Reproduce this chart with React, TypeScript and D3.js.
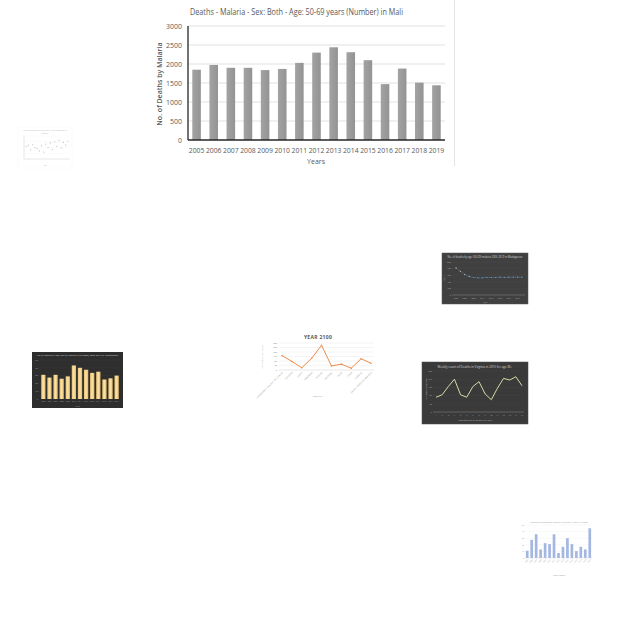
import React from 'react';
import * as d3 from 'd3';

// ---------- main chart data ----------
const years = ['2005','2006','2007','2008','2009','2010','2011','2012','2013','2014','2015','2016','2017','2018','2019'];
const deaths = [1850,1975,1900,1900,1840,1870,2030,2300,2440,2310,2100,1470,1880,1510,1440];
const yTicks = [0,500,1000,1500,2000,2500,3000];

// ---------- thumbnail data ----------
const scatterX = [1,2,3,4,5,6,7,8,9,10,11,12,13,14,15,16,17,18,19,20];
const scatterY = [0.55,0.6,0.4,0.62,0.5,0.45,0.35,0.58,0.3,0.65,0.5,0.7,0.42,0.75,0.55,0.8,0.48,0.72,0.6,0.78];
const darkLineVals = [0.82,0.72,0.62,0.56,0.53,0.52,0.52,0.53,0.53,0.53,0.54,0.53,0.54,0.54,0.54,0.54];
const y2100Countries = ['DEMOCRATIC REPUBLIC OF CONGO','ETHIOPIA','EGYPT','TANZANIA','NIGERIA','PAKISTAN','INDIA','CHINA','UGANDA','UNITED STATES OF AMERICA'];
const y2100Vals = [160,95,25,130,275,45,65,20,125,75];
const yellowBars = [0.62,0.55,0.62,0.52,0.58,0.86,0.8,0.75,0.67,0.7,0.5,0.53,0.6];
const virginiaVals = [0.36,0.42,0.62,0.8,0.42,0.36,0.62,0.74,0.44,0.3,0.58,0.82,0.78,0.86,0.64];
const blueBars = [0.22,0.55,0.72,0.26,0.45,0.42,0.72,0.15,0.34,0.6,0.42,0.21,0.34,0.26,0.9];

const FONT = '"Open Sans", "Liberation Sans", sans-serif';

function MainChart() {
  const x = d3.scaleBand<string>().domain(years).range([188, 445]).paddingInner(0.5).paddingOuter(0.25);
  const y = d3.scaleLinear().domain([0, 3000]).range([140, 26]);
  return (
    <g fontFamily={FONT}>
      <defs>
        <linearGradient id="barG" x1="0" x2="1" y1="0" y2="0">
          <stop offset="0" stopColor="#a3a3a3" />
          <stop offset="1" stopColor="#939393" />
        </linearGradient>
      </defs>
      <line x1={454.5} x2={454.5} y1={0} y2={166} stroke="#e3e3e3" />
      <text x={190} y={15} fontSize={8.5} fill="#595959" textLength={213} lengthAdjust="spacingAndGlyphs">
        Deaths - Malaria - Sex: Both - Age: 50-69 years (Number) in Mali
      </text>
      {yTicks.map(t => (
        <g key={t}>
          {t > 0 && <line x1={188} x2={445} y1={y(t)} y2={y(t)} stroke="#d9d9d9" strokeWidth={0.8} />}
          <text x={182} y={y(t) + 2.5} fontSize={7} fill="#595959" textAnchor="end">{t}</text>
        </g>
      ))}
      {years.map((yr, i) => (
        <rect key={yr} x={x(yr)} y={y(deaths[i])} width={x.bandwidth()} height={y(0) - y(deaths[i])} fill="url(#barG)" />
      ))}
      <line x1={188} x2={188} y1={26} y2={140} stroke="#262626" strokeWidth={1.3} />
      <line x1={188} x2={445} y1={140} y2={140} stroke="#262626" strokeWidth={1.3} />
      {years.map(yr => (
        <text key={yr} x={(x(yr) as number) + x.bandwidth() / 2} y={153} fontSize={6.8} fill="#595959" textAnchor="middle">{yr}</text>
      ))}
      <text x={316} y={163.5} fontSize={7} fill="#595959" textAnchor="middle">Years</text>
      <text transform="translate(162,84) rotate(-90)" fontSize={7} fontWeight={600} fill="#595959" textAnchor="middle">No. of Deaths by Malaria</text>
    </g>
  );
}

function ScatterThumb() {
  const x0 = 18, y0 = 127, w = 54, h = 41;
  const x = d3.scaleLinear().domain([0, 21]).range([x0 + 6, x0 + w - 2]);
  const y = d3.scaleLinear().domain([0, 1]).range([y0 + h - 9, y0 + 9]);
  return (
    <g fontFamily={FONT} opacity={0.55}>
      <rect x={x0} y={y0} width={w} height={h} fill="#fff" stroke="#eee" strokeWidth={0.4} />
      <text x={x0 + w / 2} y={y0 + 4} fontSize={2.2} fill="#777" textAnchor="middle">No. of deaths by malaria in Mali 2005-2019</text>
      <text x={x0 + w / 2} y={y0 + 6.5} fontSize={2} fill="#777" textAnchor="middle">Deaths</text>
      {[0.25, 0.5, 0.75, 1].map(t => (
        <line key={t} x1={x0 + 6} x2={x0 + w - 2} y1={y(t)} y2={y(t)} stroke="#eee" strokeWidth={0.3} />
      ))}
      <line x1={x0 + 6} x2={x0 + 6} y1={y(1)} y2={y(0)} stroke="#999" strokeWidth={0.4} />
      <line x1={x0 + 6} x2={x0 + w - 2} y1={y(0)} y2={y(0)} stroke="#999" strokeWidth={0.4} />
      {scatterX.map((v, i) => (
        <circle key={i} cx={x(v)} cy={y(scatterY[i])} r={0.6} fill="#8a8a8a" />
      ))}
      <text x={x0 + w / 2} y={y0 + h - 2} fontSize={2} fill="#888" textAnchor="middle">Year</text>
    </g>
  );
}

function DarkLineThumb() {
  const x0 = 442, y0 = 253, w = 86, h = 51;
  const x = d3.scalePoint<number>().domain(darkLineVals.map((_, i) => i)).range([x0 + 14, x0 + w - 6]);
  const y = d3.scaleLinear().domain([0, 1]).range([y0 + h - 9, y0 + 9]);
  const line = d3.line<number>().x((_, i) => x(i) as number).y(d => y(d));
  return (
    <g fontFamily={FONT}>
      <rect x={x0} y={y0} width={w} height={h} fill="#404040" stroke="#555" strokeWidth={0.5} />
      <text x={x0 + w / 2} y={y0 + 5} fontSize={2.6} fill="#d0d0d0" textAnchor="middle">No. of deaths by age (50-69) malaria 2005-2019 in Madagascar</text>
      {[0.2, 0.4, 0.6, 0.8, 1].map(t => (
        <line key={t} x1={x0 + 10} x2={x0 + w - 3} y1={y(t)} y2={y(t)} stroke="#4c4c4c" strokeWidth={0.4} />
      ))}
      {[0, 0.2, 0.4, 0.6, 0.8, 1].map(t => (
        <text key={t} x={x0 + 9} y={y(t) + 0.8} fontSize={2} fill="#aaa" textAnchor="end">{Math.round(t * 1000)}</text>
      ))}
      <line x1={x0 + 10} x2={x0 + w - 3} y1={y(0)} y2={y(0)} stroke="#888" strokeWidth={0.5} />
      <path d={line(darkLineVals) as string} fill="none" stroke="#5b8db8" strokeWidth={0.7} strokeDasharray="1.2 0.8" />
      {darkLineVals.map((v, i) => (
        <circle key={i} cx={x(i)} cy={y(v)} r={0.6} fill={i < 4 ? '#cfcfcf' : '#6fa0cc'} />
      ))}
      {[0, 2, 4, 6, 8, 10, 12, 14].map(i => (
        <text key={i} x={x(i)} y={y(0) + 3.5} fontSize={1.9} fill="#aaa" textAnchor="middle">{2005 + i}</text>
      ))}
      <text x={x0 + w / 2} y={y0 + h - 1.5} fontSize={2} fill="#aaa" textAnchor="middle">Year</text>
      <text transform={`translate(${x0 + 3},${y0 + h / 2}) rotate(-90)`} fontSize={2} fill="#aaa" textAnchor="middle">Deaths</text>
    </g>
  );
}

function Year2100Thumb() {
  const x = d3.scalePoint<string>().domain(y2100Countries).range([282, 371]);
  const y = d3.scaleLinear().domain([0, 300]).range([370, 343]);
  const line = d3.line<number>().x((_, i) => x(y2100Countries[i]) as number).y(d => y(d));
  return (
    <g fontFamily={FONT}>
      <rect x={257} y={332} width={121} height={67} fill="#fff" />
      <text x={318} y={338.5} fontSize={5} fontWeight={700} fill="#595959" textAnchor="middle" letterSpacing={0.3}>YEAR 2100</text>
      {[50, 100, 150, 200, 250, 300].map(t => (
        <line key={t} x1={279} x2={374} y1={y(t)} y2={y(t)} stroke="#e6e6e6" strokeWidth={0.4} />
      ))}
      {[0, 50, 100, 150, 200, 250, 300].map(t => (
        <text key={t} x={277} y={y(t) + 0.8} fontSize={2.2} fill="#888" textAnchor="end">{t}</text>
      ))}
      <line x1={279} x2={374} y1={y(0)} y2={y(0)} stroke="#cfcfcf" strokeWidth={0.5} />
      <path d={line(y2100Vals) as string} fill="none" stroke="#ef8c4a" strokeWidth={1} />
      {y2100Vals.map((v, i) => (
        <circle key={i} cx={x(y2100Countries[i])} cy={y(v)} r={0.8} fill="#ef8c4a" />
      ))}
      {y2100Countries.map(c => (
        <text key={c} transform={`translate(${(x(c) as number) + 1},${y(0) + 3}) rotate(-45)`} fontSize={2.2} fill="#999" textAnchor="end">{c}</text>
      ))}
      <text transform={`translate(263,357) rotate(-90)`} fontSize={2} fill="#999" textAnchor="middle">POPULATION (MILLIONS)</text>
      <text x={318} y={397} fontSize={2.2} fill="#999" textAnchor="middle">COUNTRY</text>
    </g>
  );
}

function YellowBarThumb() {
  const x0 = 32, y0 = 352, w = 91, h = 56;
  const x = d3.scaleBand<number>().domain(yellowBars.map((_, i) => i)).range([x0 + 8, x0 + w - 3]).paddingInner(0.3).paddingOuter(0.2);
  const y = d3.scaleLinear().domain([0, 1]).range([y0 + h - 9, y0 + 8]);
  return (
    <g fontFamily={FONT}>
      <defs>
        <linearGradient id="yelG" x1="0" x2="1" y1="0" y2="0">
          <stop offset="0" stopColor="#e9c172" />
          <stop offset="0.5" stopColor="#fbe3a8" />
          <stop offset="1" stopColor="#e3b865" />
        </linearGradient>
      </defs>
      <rect x={x0} y={y0} width={w} height={h} fill="#2e2e2e" />
      <text x={x0 + w / 2} y={y0 + 4} fontSize={2.4} fill="#cfcfcf" textAnchor="middle">No. of deaths by age (50-69) malaria (NUMBER) 2005-2017 in Madagascar</text>
      {[0.2, 0.4, 0.6, 0.8, 1].map(t => (
        <line key={t} x1={x0 + 7} x2={x0 + w - 3} y1={y(t)} y2={y(t)} stroke="#3c3c3c" strokeWidth={0.4} />
      ))}
      {[0, 0.2, 0.4, 0.6, 0.8, 1].map(t => (
        <text key={t} x={x0 + 6} y={y(t) + 0.7} fontSize={1.8} fill="#999" textAnchor="end">{Math.round(t * 500)}</text>
      ))}
      {yellowBars.map((v, i) => (
        <rect key={i} x={x(i)} y={y(v)} width={x.bandwidth()} height={y(0) - y(v)} fill="url(#yelG)" />
      ))}
      {yellowBars.map((_, i) => (
        <text key={i} x={(x(i) as number) + x.bandwidth() / 2} y={y(0) + 3} fontSize={1.8} fill="#999" textAnchor="middle">{2005 + i}</text>
      ))}
      <text x={x0 + w / 2} y={y0 + h - 1.5} fontSize={2} fill="#999" textAnchor="middle">Years</text>
    </g>
  );
}

function VirginiaThumb() {
  const x0 = 422, y0 = 362, w = 106, h = 62;
  const x = d3.scalePoint<number>().domain(virginiaVals.map((_, i) => i)).range([x0 + 14, x0 + w - 6]);
  const y = d3.scaleLinear().domain([0, 1]).range([y0 + h - 12, y0 + 9]);
  const line = d3.line<number>().x((_, i) => x(i) as number).y(d => y(d));
  return (
    <g fontFamily={FONT}>
      <rect x={x0} y={y0} width={w} height={h} fill="#3a3a3a" stroke="#4a4a4a" strokeWidth={0.5} />
      <text x={x0 + w / 2} y={y0 + 6} fontSize={3} fill="#d8d8d8" textAnchor="middle">Weekly count of Deaths in Virginia in 2015 for age 85+</text>
      {[0.2, 0.4, 0.6, 0.8, 1].map(t => (
        <line key={t} x1={x0 + 11} x2={x0 + w - 4} y1={y(t)} y2={y(t)} stroke="#474747" strokeWidth={0.4} />
      ))}
      {[0, 0.2, 0.4, 0.6, 0.8, 1].map(t => (
        <text key={t} x={x0 + 10} y={y(t) + 0.8} fontSize={2} fill="#aaa" textAnchor="end">{Math.round(t * 300)}</text>
      ))}
      <line x1={x0 + 11} x2={x0 + w - 4} y1={y(0)} y2={y(0)} stroke="#888" strokeWidth={0.5} />
      <path d={line(virginiaVals) as string} fill="none" stroke="#e6ebb0" strokeWidth={0.9} />
      {virginiaVals.map((_, i) => (
        <text key={i} x={x(i)} y={y(0) + 3.5} fontSize={2} fill="#aaa" textAnchor="middle">{i + 1}</text>
      ))}
      <text x={x0 + w / 2} y={y0 + h - 3} fontSize={2.2} fill="#bbb" textAnchor="middle">WEEKENDING DATE OF THE YEAR</text>
      <text transform={`translate(${x0 + 5},${y0 + h / 2 - 4}) rotate(-90)`} fontSize={2.2} fill="#bbb" textAnchor="middle">NUMBER OF DEATHS</text>
    </g>
  );
}

function BlueBarThumb() {
  const x0 = 517, y0 = 520, w = 76, h = 58;
  const x = d3.scaleBand<number>().domain(blueBars.map((_, i) => i)).range([x0 + 8, x0 + w - 1]).paddingInner(0.4).paddingOuter(0.2);
  const y = d3.scaleLinear().domain([0, 1]).range([558, 525]);
  return (
    <g fontFamily={FONT}>
      <rect x={x0} y={y0} width={w} height={h} fill="#fff" />
      <text x={x0 + w / 2 + 4} y={y0 + 2.5} fontSize={2} fill="#999" textAnchor="middle">Number of deaths from malaria in the last 15 years, by region</text>
      {[0.2, 0.4, 0.6, 0.8, 1].map(t => (
        <line key={t} x1={x0 + 8} x2={x0 + w - 1} y1={y(t)} y2={y(t)} stroke="#eee" strokeWidth={0.4} />
      ))}
      {[0, 0.2, 0.4, 0.6, 0.8, 1].map(t => (
        <text key={t} x={x0 + 7} y={y(t) + 0.7} fontSize={1.8} fill="#999" textAnchor="end">{Math.round(t * 50)}</text>
      ))}
      {blueBars.map((v, i) => (
        <rect key={i} x={x(i)} y={y(v)} width={x.bandwidth()} height={y(0) - y(v)} fill="#a3b7e2" />
      ))}
      <line x1={x0 + 8} x2={x0 + w - 1} y1={y(0)} y2={y(0)} stroke="#ccc" strokeWidth={0.4} />
      {blueBars.map((_, i) => (
        <text key={i} transform={`translate(${(x(i) as number) + x.bandwidth()},${y(0) + 2}) rotate(-45)`} fontSize={1.8} fill="#999" textAnchor="end">{2005 + i}</text>
      ))}
      <text x={x0 + w / 2 + 4} y={y0 + h - 2} fontSize={2} fill="#999" textAnchor="middle">Years (region)</text>
    </g>
  );
}

export default function App() {
  return (
    <svg width={640} height={640} viewBox="0 0 640 640" style={{ position: 'absolute', left: 0, top: 0, background: '#fff' }}>
      <rect width={640} height={640} fill="#fff" />
      <MainChart />
      <ScatterThumb />
      <DarkLineThumb />
      <Year2100Thumb />
      <YellowBarThumb />
      <VirginiaThumb />
      <BlueBarThumb />
    </svg>
  );
}
